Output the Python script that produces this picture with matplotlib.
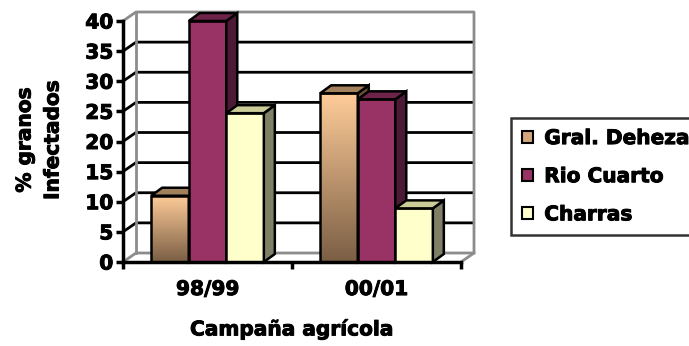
import numpy as np
import matplotlib
matplotlib.use('Agg')
import matplotlib.pyplot as plt
import matplotlib.patheffects as pe
from matplotlib.patches import Polygon, Rectangle, Patch
from matplotlib.colors import LinearSegmentedColormap

# ---------------- data ----------------
categories = ['98/99', '00/01']
series_names = ['Gral. Deheza', 'Rio Cuarto', 'Charras']
gral_deheza = [11.0, 28.0]
rio_cuarto = [40.0, 27.0]
charras = [24.7, 8.9]
y_ticks = [0, 5, 10, 15, 20, 25, 30, 35, 40]
x_label = 'Campaña agrícola'
y_label = '% granos\nInfectados'

# ---------------- styles ----------------
FONT = 'DejaVu Sans'
FS = 14.5
STROKE = [pe.withStroke(linewidth=0.7, foreground='black')]
front_colors = [None, '#993366', '#FFFFCC']
side_colors = ['#6E5238', '#4D1A35', '#808066']
top_colors = ['#A3805C', '#6E2449', '#CCCC99']
grad_top, grad_bottom = '#FFCC99', '#7A5E44'
wall_color = '#8C8C8C'

W, H = 689, 346
fig = plt.figure(figsize=(W / 100, H / 100), dpi=100)
ax_left, ax_right, ax_top, ax_bot = 123, 461, 21, 262
ax = fig.add_axes([ax_left / W, 1 - ax_bot / H, (ax_right - ax_left) / W, (ax_bot - ax_top) / H])

ncat = len(categories)
ymax = y_ticks[-1]
px_per_x = (ax_right - ax_left) / ncat
px_per_y = (ax_bot - ax_top) / ymax

# depth offsets (pixels -> data units)
wdx, wdy = 13 / px_per_x, 9 / px_per_y
bdx, bdy = 11 / px_per_x, 8 / px_per_y

# ---------------- walls & gridlines ----------------
for v in y_ticks[1:-1]:
    ax.plot([0, wdx, ncat + wdx], [v, v + wdy, v + wdy], color='black', lw=2,
            clip_on=False, zorder=1, solid_capstyle='butt')
ax.plot([0, wdx, ncat + wdx, ncat + wdx, ncat], [ymax, ymax + wdy, ymax + wdy, wdy, 0],
        color=wall_color, lw=2, clip_on=False, zorder=1)
ax.plot([wdx, wdx], [wdy, ymax + wdy], color=wall_color, lw=2, clip_on=False, zorder=1)
ax.plot([0, wdx, ncat + wdx], [0, wdy, wdy], color=wall_color, lw=2, clip_on=False, zorder=1)

# ---------------- bars ----------------
all_series = [gral_deheza, rio_cuarto, charras]
bw = 2 / 9
grad_cmap = LinearSegmentedColormap.from_list('g', [grad_bottom, grad_top])
grad = np.linspace(0, 1, 256).reshape(-1, 1)
for i in range(ncat):
    for j, vals in enumerate(all_series):
        h = vals[i]
        x0 = i + 0.5 - 1.5 * bw + j * bw
        x1 = x0 + bw
        z = 3 + i * 3 + j
        if j == 0:
            ax.imshow(grad, cmap=grad_cmap, origin='lower', extent=(x0, x1, 0, h),
                      aspect='auto', zorder=z, interpolation='bilinear')
            ax.add_patch(Rectangle((x0, 0), bw, h, fill=False, ec='black', lw=1.8, zorder=z))
        else:
            ax.add_patch(Rectangle((x0, 0), bw, h, fc=front_colors[j], ec='black', lw=1.8, zorder=z))
        ax.add_patch(Polygon([(x1, 0), (x1 + bdx, bdy), (x1 + bdx, h + bdy), (x1, h)],
                             closed=True, fc=side_colors[j], ec='black', lw=1.8, zorder=z,
                             clip_on=False))
        ax.add_patch(Polygon([(x0, h), (x0 + bdx, h + bdy), (x1 + bdx, h + bdy), (x1, h)],
                             closed=True, fc=top_colors[j], ec='black', lw=1.8, zorder=z,
                             clip_on=False))

ax.set_xlim(0, ncat)
ax.set_ylim(0, ymax)
ax.patch.set_alpha(0)

# ---------------- axes ----------------
for s in ['top', 'right']:
    ax.spines[s].set_visible(False)
for s in ['left', 'bottom']:
    ax.spines[s].set_linewidth(2.5)
    ax.spines[s].set_zorder(20)
ax.set_yticks(y_ticks)
ax.set_yticklabels([str(t) for t in y_ticks], fontsize=FS, fontweight='bold', family=FONT)
ax.set_xticks(range(ncat + 1))
ax.set_xticklabels([''] * (ncat + 1))
ax.set_xticks([i + 0.5 for i in range(ncat)], minor=True)
ax.set_xticklabels(categories, minor=True, fontsize=FS, fontweight='bold', family=FONT)
ax.tick_params(axis='both', which='major', direction='out', length=5, width=2.5, pad=2)
ax.tick_params(axis='x', which='minor', length=0, pad=13)
for t in ax.get_yticklabels() + ax.get_xticklabels(minor=True):
    t.set_path_effects(STROKE)
xl = ax.set_xlabel(x_label, fontsize=FS, fontweight='bold', family=FONT, labelpad=15)
xl.set_path_effects(STROKE)

yl = fig.text(39 / W, 1 - 140 / H, y_label, rotation=90, ha='center', va='center',
              multialignment='center', fontsize=FS, fontweight='bold', family=FONT,
              linespacing=1.6)
yl.set_path_effects(STROKE)

# ---------------- legend ----------------
handles = [Patch(fc='#D4A679', ec='black', lw=1.5),
           Patch(fc=front_colors[1], ec='black', lw=1.5),
           Patch(fc=front_colors[2], ec='black', lw=1.5)]
leg = fig.legend(handles, series_names, loc='upper left', bbox_to_anchor=(511 / W, 1 - 118 / H),
                 prop={'family': FONT, 'weight': 'bold', 'size': FS}, frameon=True,
                 fancybox=False, edgecolor='black', handlelength=0.55, handleheight=0.55,
                 handletextpad=0.55, labelspacing=0.95, borderpad=0.55, borderaxespad=0)
leg.get_frame().set_linewidth(1.8)
for t in leg.get_texts():
    t.set_path_effects(STROKE)

fig.savefig('out.png', dpi=100, facecolor='white')
